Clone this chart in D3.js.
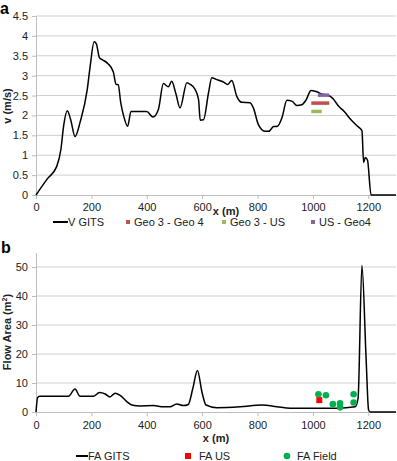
<!DOCTYPE html>
<html lang="en">
<head>
<meta charset="UTF-8">
<title>V and flow area along x</title>
<script src="https://d3js.org/d3.v7.min.js"></script>
<style>
    body { margin: 0; background: #fff; }
    text { font-family: 'Liberation Sans', Arial, sans-serif; font-size: 11px; fill: #222; }
    .domain { stroke: #bdbdbd; }
    .tick line { stroke: #bdbdbd; }
    .grid line { stroke: #cfcfcf; stroke-width: 1; }
    .title { font-weight: bold; }
    .panel { font-weight: bold; font-size: 16px; fill: #000; }
</style>
</head>
<body>
<svg id="chart" width="397" height="461"></svg>
<script>
// ---- panel a: velocity along x ----
const vX = [0, 40, 75, 90, 100, 113, 125, 141, 160, 185, 195, 210, 218, 229, 240, 260, 279, 289, 297, 306, 316, 331, 343, 370, 400, 422, 442, 460, 478, 490, 505, 520, 545, 557, 575, 587, 593, 605, 623, 635, 653, 677, 692, 707, 725, 743, 773, 785, 803, 828, 840, 858, 872, 888, 906, 924, 942, 960, 976, 993, 1012, 1032, 1063, 1075, 1093, 1113, 1135, 1159, 1177, 1183, 1189, 1197, 1210, 1300];
const vGITS = [0, 0.4, 0.72, 1.15, 1.75, 2.12, 1.9, 1.47, 1.85, 2.65, 3.2, 3.85, 3.8, 3.45, 3.4, 3.3, 3.1, 2.78, 2.77, 2.32, 2.0, 1.73, 2.1, 2.1, 2.1, 1.96, 2.15, 2.8, 2.72, 2.86, 2.55, 2.19, 2.82, 2.78, 2.65, 2.4, 1.88, 1.89, 2.57, 2.95, 2.9, 2.84, 2.78, 2.88, 2.48, 2.33, 2.32, 2.19, 1.77, 1.6, 1.6, 1.72, 1.73, 1.94, 2.38, 2.36, 2.25, 2.27, 2.4, 2.63, 2.6, 2.54, 2.48, 2.4, 2.23, 2.1, 1.91, 1.74, 1.62, 0.82, 0.94, 0.88, 0, 0];
const geoNames = ["Geo 3 - Geo 4", "Geo 3 - US", "US - Geo4"];
const geoColors = ["#c0504d", "#9bbb59", "#8064a2"];
const geoStart = [994, 994, 1018];
const geoEnd = [1059, 1032, 1059];
const geoV = [2.31, 2.1, 2.51];
const vTicks = [0, 0.5, 1, 1.5, 2, 2.5, 3, 3.5, 4, 4.5];

// ---- panel b: flow area along x ----
const faX = [0, 6, 14, 117, 141, 159, 207, 229, 250, 267, 286, 304, 328, 346, 376, 424, 460, 484, 508, 532, 550, 566, 583, 599, 614, 653, 737, 816, 870, 918, 1014, 1087, 1153, 1163, 1177, 1192, 1201, 1207, 1300];
const faGITS = [0, 5, 5.4, 5.4, 7.9, 5.4, 5.4, 6.7, 6.2, 5.2, 6.5, 5.7, 3.6, 2.4, 2.1, 2.2, 1.8, 1.8, 2.8, 2.2, 2.6, 8, 14.3, 7, 2.4, 1.5, 1.8, 2.4, 1.8, 1.3, 1.3, 1.3, 1.8, 4.7, 50.5, 18.5, 0.7, 0, 0];
const faUsX = [1023];
const faUs = [4.1];
const faFieldX = [1020, 1047, 1072, 1098, 1098, 1147, 1147];
const faField = [6.1, 5.8, 2.7, 3.0, 1.6, 6.1, 3.3];
const faTicks = [0, 10, 20, 30, 40, 50];

const xTicks = [0, 200, 400, 600, 800, 1000, 1200];

const chart = d3.select("#chart");
const left = 36, right = 396;

const scaleX = d3.scaleLinear().domain([0, 1300]).range([left, right]);

// ================= panel a =================
const yA = d3.scaleLinear().domain([0, 4.5]).range([195, 16]);

chart.append("g").attr("class", "grid")
    .selectAll("line").data(vTicks.filter(d => d > 0)).enter()
    .append("line")
    .attr("x1", left).attr("x2", right)
    .attr("y1", d => yA(d)).attr("y2", d => yA(d));

chart.append("g")
    .attr("transform", `translate(${left},0)`)
    .call(d3.axisLeft(yA).tickValues(vTicks).tickSize(4).tickPadding(4).tickFormat(d3.format("")));

chart.append("g")
    .attr("transform", "translate(0,195)")
    .call(d3.axisBottom(scaleX).tickValues(xTicks).tickSize(4).tickPadding(4).tickSizeOuter(0).tickFormat(d3.format("d")));

const lineA = d3.line().x((d, i) => scaleX(vX[i])).y(d => yA(d)).curve(d3.curveMonotoneX);
chart.append("path")
    .datum(vGITS)
    .attr("d", lineA)
    .attr("fill", "none").attr("stroke", "#000").attr("stroke-width", 1.5);

chart.append("g").selectAll("line").data(geoNames).enter()
    .append("line")
    .attr("x1", (d, i) => scaleX(geoStart[i]))
    .attr("x2", (d, i) => scaleX(geoEnd[i]))
    .attr("y1", (d, i) => yA(geoV[i]))
    .attr("y2", (d, i) => yA(geoV[i]))
    .attr("stroke", (d, i) => geoColors[i])
    .attr("stroke-width", 3.5);

chart.append("text").attr("class", "panel").attr("x", 0).attr("y", 14).text("a");
chart.append("text").attr("class", "title")
    .attr("transform", "translate(11,106)rotate(-90)")
    .attr("text-anchor", "middle").text("v (m/s)");
chart.append("text").attr("class", "title")
    .attr("x", 226).attr("y", 215).attr("text-anchor", "middle").text("x (m)");

// legend a
const legA = chart.append("g").attr("transform", "translate(0,222)");
legA.append("line").attr("x1", 53).attr("x2", 68).attr("y1", 0).attr("y2", 0)
    .attr("stroke", "#000").attr("stroke-width", 2);
legA.append("text").attr("x", 68).attr("y", 4).text("V GITS");
const geoLegX = [128, 224, 313];
geoNames.forEach((name, i) => {
    legA.append("rect").attr("x", geoLegX[i] - 2).attr("y", -2).attr("width", 4).attr("height", 4)
        .attr("fill", geoColors[i]);
    legA.append("text").attr("x", geoLegX[i] + 6).attr("y", 4).text(name);
});

// ================= panel b =================
const yB = d3.scaleLinear().domain([0, 55]).range([412, 252.5]);

chart.append("g").attr("class", "grid")
    .selectAll("line").data(faTicks.filter(d => d > 0)).enter()
    .append("line")
    .attr("x1", left).attr("x2", right)
    .attr("y1", d => yB(d)).attr("y2", d => yB(d));

chart.append("g")
    .attr("transform", `translate(${left},0)`)
    .call(d3.axisLeft(yB).tickValues(faTicks).tickSize(4).tickPadding(4).tickSizeOuter(0));

chart.append("g")
    .attr("transform", "translate(0,412)")
    .call(d3.axisBottom(scaleX).tickValues(xTicks).tickSize(4).tickPadding(5).tickSizeOuter(0).tickFormat(d3.format("d")));

const lineB = d3.line().x((d, i) => scaleX(faX[i])).y(d => yB(d)).curve(d3.curveMonotoneX);
chart.append("path")
    .datum(faGITS)
    .attr("d", lineB)
    .attr("fill", "none").attr("stroke", "#000").attr("stroke-width", 1.5);

chart.append("g").selectAll("rect").data(faUs).enter()
    .append("rect")
    .attr("x", (d, i) => scaleX(faUsX[i]) - 3)
    .attr("y", d => yB(d) - 3)
    .attr("width", 6).attr("height", 6)
    .attr("fill", "#ff0000");

chart.append("g").selectAll("circle").data(faField).enter()
    .append("circle")
    .attr("cx", (d, i) => scaleX(faFieldX[i]))
    .attr("cy", d => yB(d))
    .attr("r", 3.3)
    .attr("fill", "#00b050");

chart.append("text").attr("class", "panel").attr("x", 1).attr("y", 253).text("b");
const yTitleB = chart.append("text").attr("class", "title")
    .attr("transform", "translate(11,332)rotate(-90)")
    .attr("text-anchor", "middle");
yTitleB.append("tspan").text("Flow Area (m");
yTitleB.append("tspan").attr("dy", -4).style("font-size", "7px").text("2");
yTitleB.append("tspan").attr("dy", 4).text(")");
chart.append("text").attr("class", "title")
    .attr("x", 216).attr("y", 442).attr("text-anchor", "middle").text("x (m)");

// legend b
const legB = chart.append("g").attr("transform", "translate(0,456)");
legB.append("line").attr("x1", 76).attr("x2", 88).attr("y1", 0).attr("y2", 0)
    .attr("stroke", "#000").attr("stroke-width", 2);
legB.append("text").attr("x", 88).attr("y", 4).text("FA GITS");
legB.append("rect").attr("x", 185).attr("y", -3).attr("width", 6).attr("height", 6).attr("fill", "#ff0000");
legB.append("text").attr("x", 199).attr("y", 4).text("FA US");
legB.append("circle").attr("cx", 287).attr("cy", 0).attr("r", 3.3).attr("fill", "#00b050");
legB.append("text").attr("x", 297).attr("y", 4).text("FA Field");
</script>
</body>
</html>
